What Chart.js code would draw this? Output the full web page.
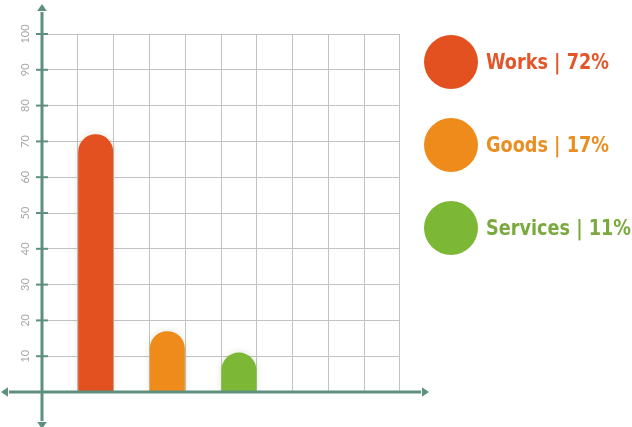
<!DOCTYPE html>
<html>
<head>
<meta charset="utf-8">
<script src="https://cdn.jsdelivr.net/npm/chart.js@4.4.1/dist/chart.umd.min.js"></script>
<style>
  html, body { margin: 0; padding: 0; background: #fff; }
</style>
</head>
<body>
<canvas id="canvas-chart" width="632" height="427"></canvas>
<script>
// data
const categories = ['Works', 'Goods', 'Services'];
const shares = [72, 17, 11];
const barColors = ['#e2511f', '#ee8b1b', '#7cb836'];
const textColors = ['#e3562a', '#e98f22', '#7aa93d'];
const slotCount = 10; // grid columns

const axisColor = '#5e907f';
const gridColor = '#bfc3c3';
const legendFont = 'bold 22px "DejaVu Sans Condensed", "Liberation Sans", sans-serif';

// every other column holds a bar, starting at column 1
const slotLabels = Array(slotCount).fill('');
const slotValues = Array(slotCount).fill(null);
const slotColors = Array(slotCount).fill('transparent');
categories.forEach((c, i) => {
    slotLabels[1 + i * 2] = c;
    slotValues[1 + i * 2] = shares[i];
    slotColors[1 + i * 2] = barColors[i];
});

function arrowHead(ctx, x, y, dir) {
    const s = 6;
    ctx.beginPath();
    if (dir === 'up') { ctx.moveTo(x, y - s); ctx.lineTo(x - s * 0.8, y + 1); ctx.lineTo(x + s * 0.8, y + 1); }
    if (dir === 'down') { ctx.moveTo(x, y + s); ctx.lineTo(x - s * 0.8, y - 1); ctx.lineTo(x + s * 0.8, y - 1); }
    if (dir === 'left') { ctx.moveTo(x - s, y); ctx.lineTo(x + 1, y - s * 0.8); ctx.lineTo(x + 1, y + s * 0.8); }
    if (dir === 'right') { ctx.moveTo(x + s, y); ctx.lineTo(x - 1, y - s * 0.8); ctx.lineTo(x - 1, y + s * 0.8); }
    ctx.closePath();
    ctx.fill();
}

const decor = {
    id: 'decor',
    beforeDatasetsDraw(chart) {
        // soft halo round the bars
        chart.ctx.save();
        chart.ctx.shadowColor = 'rgba(120,140,60,0.25)';
        chart.ctx.shadowBlur = 6;
    },
    afterDatasetsDraw(chart) {
        chart.ctx.restore();
        const {ctx, chartArea, scales: {y}} = chart;
        const x0 = chartArea.left;
        const y0 = y.getPixelForValue(0);
        ctx.save();
        ctx.strokeStyle = axisColor;
        ctx.fillStyle = axisColor;
        ctx.lineWidth = 3;
        ctx.beginPath();
        ctx.moveTo(x0, 12); ctx.lineTo(x0, 421);
        ctx.moveTo(9, y0); ctx.lineTo(421, y0);
        ctx.stroke();
        arrowHead(ctx, x0, 10, 'up');
        arrowHead(ctx, x0, 423, 'down');
        arrowHead(ctx, 7, y0, 'left');
        arrowHead(ctx, 423, y0, 'right');

        // tick dashes and rotated labels
        ctx.lineWidth = 2;
        ctx.font = '11px Lato';
        ctx.textAlign = 'center';
        ctx.textBaseline = 'middle';
        y.ticks.forEach(t => {
            if (t.value === 0) return;
            const py = y.getPixelForValue(t.value);
            ctx.strokeStyle = axisColor;
            ctx.beginPath();
            ctx.moveTo(x0 - 6, py); ctx.lineTo(x0 + 6, py);
            ctx.stroke();
            ctx.save();
            ctx.translate(25, py);
            ctx.rotate(-Math.PI / 2);
            ctx.fillStyle = '#a8a8a8';
            ctx.fillText(String(t.value), 0, 0);
            ctx.restore();
        });

        // legend: circles plus condensed labels
        ctx.font = legendFont;
        const squeeze = 123 / ctx.measureText(categories[0] + ' | ' + shares[0] + '%').width;
        categories.forEach((c, i) => {
            const cy = 62 + i * 83;
            ctx.fillStyle = barColors[i];
            ctx.beginPath();
            ctx.arc(451, cy, 27, 0, Math.PI * 2);
            ctx.fill();
            ctx.save();
            ctx.translate(486, cy + 1);
            ctx.scale(squeeze, 1);
            ctx.font = legendFont;
            ctx.textAlign = 'left';
            ctx.textBaseline = 'middle';
            ctx.fillStyle = textColors[i];
            ctx.fillText(c + ' | ' + shares[i] + '%', 0, 0);
            ctx.restore();
        });
        ctx.restore();
    }
};

const ctx = document.getElementById('canvas-chart').getContext('2d');
const myChart = new Chart(ctx, {
    type: 'bar',
    data: {
        labels: slotLabels,
        datasets: [{
            data: slotValues,
            backgroundColor: slotColors,
            borderRadius: {topLeft: 18, topRight: 18, bottomLeft: 0, bottomRight: 0},
            borderSkipped: 'bottom',
            barPercentage: 0.98,
            categoryPercentage: 1
        }]
    },
    options: {
        responsive: false,
        animation: false,
        layout: {padding: {top: 34, right: 232, left: 0, bottom: 0}},
        plugins: {legend: {display: false}, tooltip: {enabled: false}},
        scales: {
            x: {
                grid: {color: gridColor, offset: true, drawTicks: false},
                border: {display: false},
                ticks: {display: false},
                afterFit: s => { s.height = 35; }
            },
            y: {
                min: 0, max: 100,
                ticks: {stepSize: 10, display: false},
                grid: {color: gridColor, drawTicks: false},
                border: {display: false},
                afterFit: s => { s.width = 42; }
            }
        }
    },
    plugins: [decor]
});
</script>
</body>
</html>
